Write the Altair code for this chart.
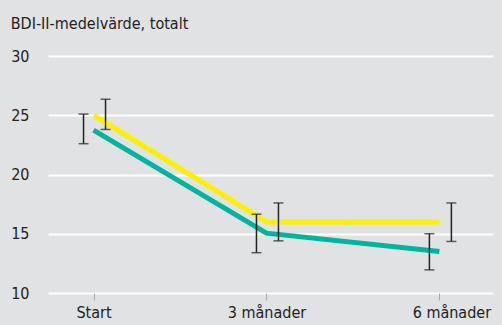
import altair as alt
import pandas as pd

# Time points (months since start) and their axis labels
months = [0, 3, 6]
timepoints = ["Start", "3 månader", "6 månader"]

# Mean BDI-II score per group
group_names = ["Grupp A", "Grupp B"]
mean_a = [23.75, 15.05, 13.5]
mean_b = [25.0, 16.0, 16.0]

# Confidence interval bounds per group
low_a = [22.6, 13.4, 11.95]
high_a = [25.1, 16.65, 15.0]
low_b = [23.8, 14.4, 14.35]
high_b = [26.35, 17.6, 17.6]

colors = ["#00b59d", "#fff000"]
FONT = "DejaVu Sans Condensed, Roboto, sans-serif"

rows = []
for name, means, lows, highs in [
    (group_names[0], mean_a, low_a, high_a),
    (group_names[1], mean_b, low_b, high_b),
]:
    for m, t, v, lo, hi in zip(months, timepoints, means, lows, highs):
        rows.append({"grupp": name, "månad": m, "tid": t, "medel": v, "låg": lo, "hög": hi})
df = pd.DataFrame(rows)

x_scale = alt.Scale(domain=[-0.79, 6.93], nice=False, zero=False)
y_scale = alt.Scale(domain=[10, 30], nice=False, zero=False)

x_axis = alt.Axis(
    values=months,
    labelExpr="datum.value == 0 ? 'Start' : datum.value == 3 ? '3 månader' : '6 månader'",
    title=None,
    grid=False,
    domain=False,
    ticks=True,
    tickColor="#aaaaaa",
    tickSize=7,
    tickWidth=1,
    labelFlush=False,
    labelPadding=4,
    labelFont=FONT,
    labelFontSize=16,
    labelColor="#222222",
    labelOffset=alt.ConditionalAxisNumber(
        condition={"test": "datum.value == 6", "value": 12}, value=0
    ),
)
y_axis = alt.Axis(
    values=[10, 15, 20, 25, 30],
    title=None,
    grid=True,
    gridColor="#ffffff",
    gridWidth=2,
    domain=False,
    ticks=False,
    tickSize=0,
    labelPadding=19,
    labelFont=FONT,
    labelFontSize=16,
    labelColor="#222222",
)

base = alt.Chart(df)

lines = base.mark_line(strokeWidth=5, strokeCap="butt").encode(
    x=alt.X("månad:Q", scale=x_scale, axis=x_axis),
    y=alt.Y("medel:Q", scale=y_scale, axis=y_axis),
    color=alt.Color("grupp:N", scale=alt.Scale(domain=group_names, range=colors), legend=None),
)


def error_bars(name, offset):
    sub = base.transform_filter(alt.datum.grupp == name)
    stem = sub.mark_rule(color="#222222", strokeWidth=1.5, xOffset=offset).encode(
        x="månad:Q", y="låg:Q", y2="hög:Q"
    )
    cap_lo = sub.mark_tick(
        color="#222222", orient="horizontal", size=10, thickness=1.5, xOffset=offset
    ).encode(x="månad:Q", y="låg:Q")
    cap_hi = sub.mark_tick(
        color="#222222", orient="horizontal", size=10, thickness=1.5, xOffset=offset
    ).encode(x="månad:Q", y="hög:Q")
    return stem + cap_lo + cap_hi


chart = (
    alt.layer(lines, error_bars(group_names[0], -10), error_bars(group_names[1], 12))
    .properties(
        width=445,
        height=237,
        autosize=alt.AutoSizeParams(type="none"),
        padding={"left": 48, "top": 56, "right": 9, "bottom": 32},
        background="#e1e2e4",
        title=alt.TitleParams(
            "BDI-II-medelvärde, totalt",
            anchor="start",
            offset=16,
            font=FONT,
            fontSize=16,
            fontWeight="normal",
            color="#222222",
        ),
    )
    .configure_view(stroke=None)
)

chart.save("out.html", embed_options={"renderer": "svg", "actions": False})
